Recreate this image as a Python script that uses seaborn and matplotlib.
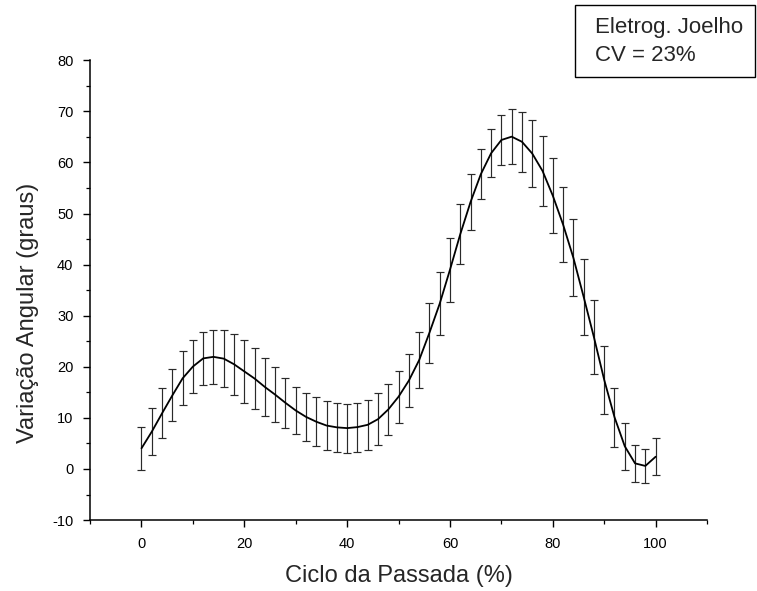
import matplotlib
matplotlib.use("Agg")
import matplotlib.pyplot as plt
import numpy as np
import pandas as pd
import seaborn as sns
from matplotlib.ticker import MultipleLocator

# gait cycle (%) and knee angle mean / standard deviation (degrees)
cycle = list(range(0, 101, 2))
mean_angle = [
    4.05, 7.3, 10.9, 14.4, 17.75, 20.05, 21.65, 21.95, 21.6, 20.5,
    19.1, 17.7, 16.05, 14.55, 12.95, 11.45, 10.2, 9.25, 8.5, 8.15,
    8.0, 8.2, 8.65, 9.75, 11.65, 14.15, 17.3, 21.3, 26.65, 32.35,
    39.0, 45.95, 52.25, 57.7, 61.8, 64.4, 65.05, 64.05, 61.75, 58.35,
    53.5, 47.85, 41.35, 33.7, 25.8, 17.45, 10.15, 4.45, 1.1, 0.6,
    2.4,
]
sd_angle = [
    4.25, 4.6, 4.9, 5.1, 5.25, 5.15, 5.25, 5.35, 5.6, 6.0,
    6.1, 5.9, 5.65, 5.35, 4.95, 4.65, 4.7, 4.75, 4.8, 4.85,
    4.8, 4.8, 4.95, 5.05, 4.95, 5.05, 5.2, 5.5, 5.85, 6.15,
    6.3, 5.85, 5.45, 4.9, 4.7, 4.9, 5.35, 5.85, 6.65, 6.85,
    7.3, 7.25, 7.55, 7.5, 7.3, 6.65, 5.75, 4.65, 3.6, 3.4,
    3.6,
]
legend_lines = ["Eletrog. Joelho", "CV = 23%"]

df = pd.DataFrame({"cycle": cycle, "mean": mean_angle, "sd": sd_angle})

sns.set_style("ticks")
plt.rcParams["font.family"] = ["Liberation Sans", "DejaVu Sans"]
plt.rcParams["axes.unicode_minus"] = False

fig = plt.figure(figsize=(7.57, 5.91), dpi=100)
ax = fig.add_axes([0.119, 0.120, 0.815, 0.778])

ax.errorbar(df["cycle"], df["mean"], yerr=df["sd"], fmt="none",
            ecolor="#2a2a2a", elinewidth=0.85, capsize=2.6, capthick=0.85)
sns.lineplot(data=df, x="cycle", y="mean", color="black", linewidth=1.3, ax=ax)

ax.set_xlim(-10, 110)
ax.set_ylim(-10, 80)
ax.xaxis.set_major_locator(MultipleLocator(20))
ax.xaxis.set_minor_locator(MultipleLocator(10))
ax.yaxis.set_major_locator(MultipleLocator(10))
ax.yaxis.set_minor_locator(MultipleLocator(5))
ax.set_xticks([0, 20, 40, 60, 80, 100])

sns.despine(ax=ax)
for side in ("left", "bottom"):
    ax.spines[side].set_linewidth(1.1)
    ax.spines[side].set_color("black")
ax.tick_params(which="major", direction="out", length=5, width=1.0,
               labelsize=10.5, pad=7, colors="black")
ax.tick_params(which="minor", direction="out", length=3, width=0.9, colors="black")

ax.set_xlabel("Ciclo da Passada (%)", fontsize=17)
ax.set_ylabel("Variação Angular (graus)", fontsize=17)
ax.xaxis.set_label_coords(0.5, -0.098)
ax.yaxis.set_label_coords(-0.083, 0.45)

fig.text(0.786, 0.953, legend_lines[0], fontsize=16, va="center", ha="left")
fig.text(0.786, 0.906, legend_lines[1], fontsize=16, va="center", ha="left")
box = plt.Rectangle((0.760, 0.870), 0.237, 0.122, transform=fig.transFigure,
                    fill=False, edgecolor="black", linewidth=1.0)
fig.patches.append(box)

fig.savefig("out.png", dpi=100)
